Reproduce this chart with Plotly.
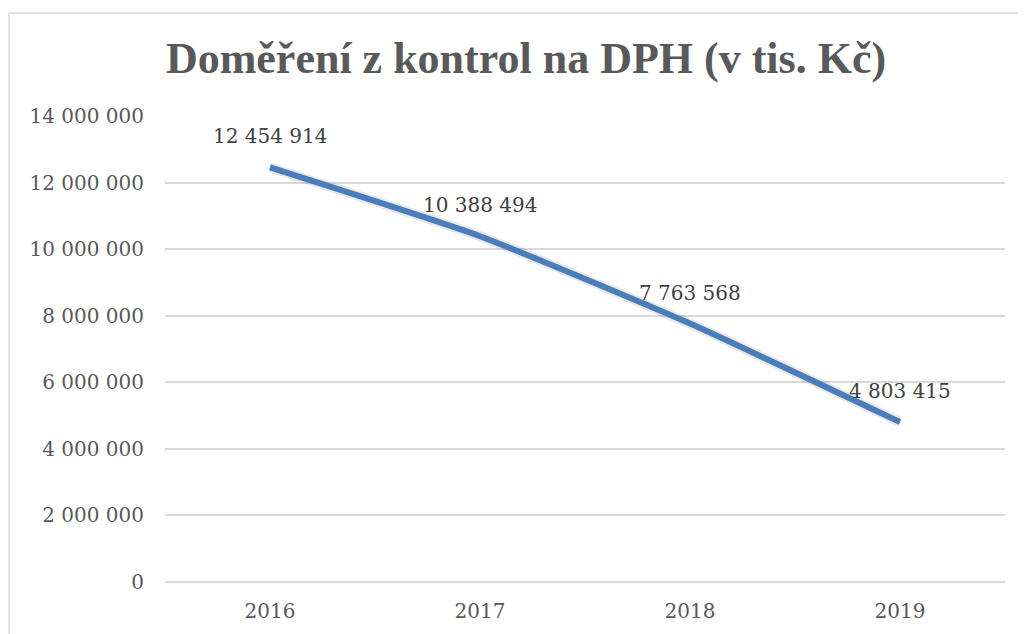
import plotly.graph_objects as go

years = ["2016", "2017", "2018", "2019"]
values = [12454914, 10388494, 7763568, 4803415]
y_ticks = [0, 2000000, 4000000, 6000000, 8000000, 10000000, 12000000, 14000000]

title_text = "Doměření z kontrol na DPH (v tis. Kč)"

# the page body adds an 8px offset; figure coords = screen coords - 8
W, H = 1026, 634
ML, MR, MT, MB = 157, 29, 108, 60
PW, PH = W - ML - MR, H - MT - MB

def fmt(v):
    return f"{v:,}".replace(",", " ")

fig = go.Figure()
# soft shadow
fig.add_trace(go.Scatter(
    x=years, y=values, mode="lines",
    line=dict(color="rgba(0,0,0,0.09)", width=10, shape="spline", smoothing=0.5),
    hoverinfo="skip", showlegend=False,
))
fig.add_trace(go.Scatter(
    x=years, y=values, mode="lines",
    line=dict(color="#4a7ebb", width=6, shape="spline", smoothing=0.5),
    showlegend=False,
))

for i, v in enumerate(values):
    fig.add_annotation(
        x=i, y=v, xref="x", yref="y", text=fmt(v), showarrow=False,
        yshift=31, font=dict(family="DejaVu Serif", size=20, color="#404040"),
    )

# chart border
bx0, by0 = 1, 5
fig.add_shape(
    type="rect", xref="paper", yref="paper",
    x0=(bx0 - ML) / PW, x1=(W + 20 - ML) / PW,
    y0=(H - MB - (H + 20)) / PH, y1=(H - MB - by0) / PH,
    line=dict(color="#e2e2e2", width=2), fillcolor="rgba(0,0,0,0)", layer="below",
)

fig.update_layout(
    width=W, height=H,
    margin=dict(l=ML, r=MR, t=MT, b=MB),
    paper_bgcolor="white", plot_bgcolor="white",
    separators=", ",
    title=dict(
        text=title_text,
        font=dict(family="Liberation Serif", size=44, color="#595959", weight="bold"),
        xref="paper", x=(518 - ML) / PW, xanchor="center",
        yref="container", y=1 - 50 / H, yanchor="middle",
    ),
    xaxis=dict(
        type="category", range=[-0.5, 3.5],
        showgrid=False, showline=False, zeroline=False, ticks="",
        tickfont=dict(family="DejaVu Serif", size=20, color="#595959"),
        ticklabelstandoff=15,
    ),
    yaxis=dict(
        range=[0, 14000000], tickvals=y_ticks, tickformat=",d",
        showgrid=True, gridcolor="#d9d9d9", gridwidth=1.5,
        zeroline=True, zerolinecolor="#d9d9d9", zerolinewidth=1.5,
        showline=False, ticks="",
        tickfont=dict(family="DejaVu Serif", size=20, color="#595959"),
        ticklabelstandoff=20,
    ),
)

fig.write_html("out.html")
